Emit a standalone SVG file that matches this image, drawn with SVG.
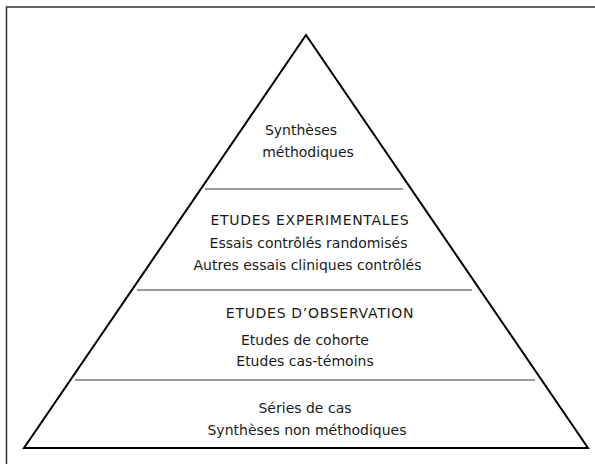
<svg xmlns="http://www.w3.org/2000/svg" width="595" height="464" viewBox="0 0 595 464">
<style>
.t{font-family:"DejaVu Sans",Verdana,sans-serif;font-size:14px;fill:#1a1a1a;text-anchor:middle}
.c{letter-spacing:0.7px}
.sep{stroke:#7a7a7a;stroke-width:1.3;fill:none}
</style>
<rect x="0" y="0" width="595" height="464" fill="#ffffff"/>
<path d="M6.5,470 V7 H600" fill="none" stroke="#333" stroke-width="1.5"/>
<g id="pyramid">
<polygon points="306,35 24,448 588,448" fill="#ffffff" stroke="#000" stroke-width="2" stroke-linejoin="miter"/>
</g>
<g id="connectors">
<line class="sep" x1="205" y1="189" x2="403" y2="189"/>
<line class="sep" x1="137" y1="290" x2="472" y2="290"/>
<line class="sep" x1="75" y1="380" x2="535" y2="380"/>
</g>
<g id="level1">
<text class="t" x="301" y="135">Synthèses</text>
<text class="t" x="308" y="157">méthodiques</text>
</g>
<g id="level2">
<text class="t c" x="310" y="225">ETUDES EXPERIMENTALES</text>
<text class="t" x="308.5" y="248">Essais contrôlés randomisés</text>
<text class="t" x="307.5" y="270">Autres essais cliniques contrôlés</text>
</g>
<g id="level3">
<text class="t c" x="320" y="318">ETUDES D’OBSERVATION</text>
<text class="t" x="305" y="345">Etudes de cohorte</text>
<text class="t" x="305" y="366">Etudes cas-témoins</text>
</g>
<g id="level4">
<text class="t" x="305" y="413">Séries de cas</text>
<text class="t" x="307" y="435">Synthèses non méthodiques</text>
</g>
</svg>
